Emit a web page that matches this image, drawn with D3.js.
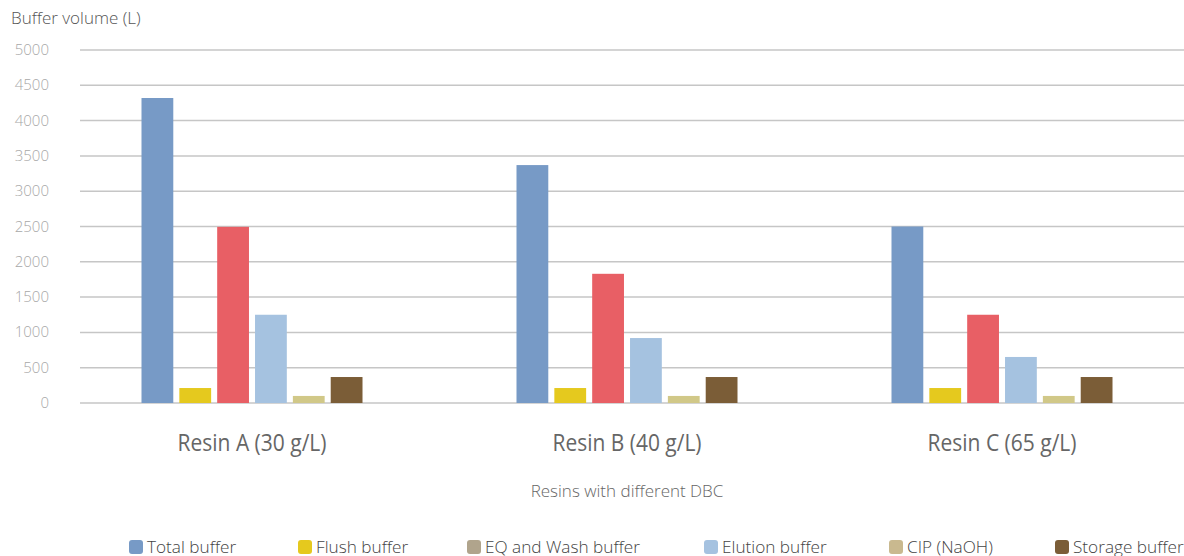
<!DOCTYPE html>
<html lang="en">
  <head>
    <meta charset="UTF-8" />
    <title>Buffer volume by resin</title>
    <script src="https://d3js.org/d3.v7.min.js"></script>
    <style>
      body { margin: 0; background: #fff; }
      svg { display: block; font-family: "Open Sans", "Noto Sans", sans-serif; }
    </style>
  </head>
  <body>
    <svg width="1184" height="556"></svg>

    <script>
      // data
      const resins = ["Resin A (30 g/L)", "Resin B (40 g/L)", "Resin C (65 g/L)"];
      const seriesNames = ["Total buffer", "Flush buffer", "EQ and Wash buffer", "Elution buffer", "CIP (NaOH)", "Storage buffer"];
      const totalBuffer = [4320, 3370, 2500];
      const flushBuffer = [212, 212, 212];
      const eqWashBuffer = [2495, 1830, 1250];
      const elutionBuffer = [1250, 920, 652];
      const cipBuffer = [100, 100, 100];
      const storageBuffer = [368, 368, 368];
      const yTicks = [0, 500, 1000, 1500, 2000, 2500, 3000, 3500, 4000, 4500, 5000];

      const seriesValues = [totalBuffer, flushBuffer, eqWashBuffer, elutionBuffer, cipBuffer, storageBuffer];
      const barColors = ["#779ac6", "#e5c91e", "#e85f65", "#a5c2e0", "#d1c888", "#7b5d37"];
      // the legend swatch for EQ/Wash differs from its bar in the original
      const legendColors = ["#779ac6", "#e5c91e", "#b0a48c", "#a5c2e0", "#c9b98f", "#7b5d37"];
      // legend item x positions (layout)
      const legendX = [129, 298, 467, 704, 889, 1055];

      const svg = d3.select("svg");

      const y = d3.scaleLinear().domain([0, 5000]).range([403, 50]);
      const x0 = d3.scaleBand().domain(resins).range([64.5, 1189.5]);
      const x1 = d3.scaleBand().domain(seriesNames).range([-110.5, 110.5]).paddingInner(0.16);

      // gridlines
      svg.append("g")
        .selectAll("line")
        .data(yTicks)
        .join("line")
        .attr("x1", 80)
        .attr("x2", 1184)
        .attr("y1", d => y(d))
        .attr("y2", d => y(d))
        .attr("stroke", "#c6c6c6")
        .attr("stroke-width", 1.5);

      // y tick labels
      svg.append("g")
        .selectAll("text")
        .data(yTicks)
        .join("text")
        .attr("x", 49)
        .attr("y", d => y(d) + 5)
        .attr("text-anchor", "end")
        .attr("font-size", 15)
        .attr("font-weight", 300)
        .attr("fill", "#a8a8a8")
        .text(d => d);

      svg.append("text")
        .attr("x", 11)
        .attr("y", 24)
        .attr("font-size", 17)
        .attr("font-weight", 300)
        .attr("fill", "#555")
        .text("Buffer volume (L)");

      // bars
      const groups = svg.append("g")
        .selectAll("g")
        .data(resins)
        .join("g")
        .attr("transform", d => `translate(${x0(d) + x0.bandwidth() / 2},0)`);

      groups.selectAll("rect")
        .data((d, i) => seriesNames.map((s, j) => ({ s, j, v: seriesValues[j][i] })))
        .join("rect")
        .attr("x", d => x1(d.s))
        .attr("width", x1.bandwidth())
        .attr("y", d => y(d.v))
        .attr("height", d => y(0) - y(d.v))
        .attr("fill", d => barColors[d.j]);

      // category labels (condensed look)
      svg.append("g")
        .selectAll("text")
        .data(resins)
        .join("text")
        .attr("x", d => x0(d) + x0.bandwidth() / 2)
        .attr("y", 451)
        .attr("text-anchor", "middle")
        .attr("font-size", 24)
        .attr("fill", "#666")
        .attr("textLength", 149)
        .attr("lengthAdjust", "spacingAndGlyphs")
        .text(d => d);

      svg.append("text")
        .attr("x", x0(resins[1]) + x0.bandwidth() / 2)
        .attr("y", 497)
        .attr("text-anchor", "middle")
        .attr("font-size", 17)
        .attr("font-weight", 300)
        .attr("fill", "#666")
        .text("Resins with different DBC");

      // legend
      const legend = svg.append("g")
        .selectAll("g")
        .data(seriesNames)
        .join("g")
        .attr("transform", (d, i) => `translate(${legendX[i]},0)`);

      legend.append("rect")
        .attr("y", 540)
        .attr("width", 14)
        .attr("height", 14)
        .attr("rx", 3)
        .attr("fill", (d, i) => legendColors[i]);

      legend.append("text")
        .attr("x", 18)
        .attr("y", 553)
        .attr("font-size", 17.2)
        .attr("font-weight", 300)
        .attr("fill", "#444")
        .text(d => d);
    </script>
  </body>
</html>
